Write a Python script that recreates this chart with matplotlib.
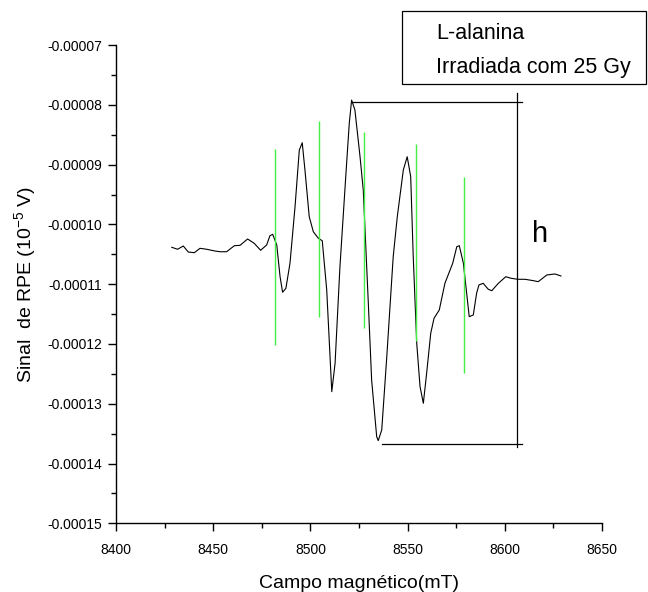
import numpy as np
import matplotlib
matplotlib.use('Agg')
import matplotlib.pyplot as plt
from matplotlib.ticker import MultipleLocator, FuncFormatter

plt.rcParams['font.family'] = ['Liberation Sans', 'DejaVu Sans']

# EPR spectrum (signal in units of 1e-5 V)
campo = [8428.7, 8431.7, 8434.6, 8437.2, 8440.3, 8443.2, 8446.7, 8450.9, 8453.5, 8456.9,
         8460.9, 8463.8, 8467.7, 8471.1, 8474.4, 8477.5, 8479.2, 8480.6, 8482.7, 8484.4,
         8485.7, 8487.4, 8489.5, 8492.1, 8494.3, 8495.8, 8497.2, 8499.4, 8501.5, 8504.1,
         8506.1, 8508.4, 8511.0, 8512.7, 8515.2, 8518.3, 8520.0, 8521.2, 8522.9, 8525.5,
         8527.2, 8529.8, 8531.5, 8534.1, 8534.9, 8536.7, 8539.3, 8541.5, 8542.6, 8544.7,
         8547.8, 8549.8, 8551.6, 8552.9, 8554.7, 8556.4, 8558.1, 8559.8, 8561.9, 8563.6,
         8566.3, 8569.2, 8573.2, 8575.3, 8576.6, 8578.7, 8581.7, 8583.8, 8585.5, 8586.7,
         8588.9, 8591.5, 8593.3, 8596.7, 8600.5, 8603.2, 8606.6, 8610.4, 8614.7, 8617.2,
         8621.6, 8625.8, 8628.9]
sinal = [-10.383, -10.416, -10.361, -10.462, -10.473, -10.400, -10.416, -10.445, -10.457, -10.457,
         -10.356, -10.350, -10.244, -10.316, -10.433, -10.344, -10.189, -10.166, -10.344, -10.875,
         -11.135, -11.069, -10.651, -9.704, -8.756, -8.634, -9.090, -9.871, -10.122, -10.232,
         -10.273, -11.097, -12.798, -12.323, -10.707, -9.145, -8.309, -7.920, -8.087, -8.856,
         -9.425, -11.319, -12.602, -13.550, -13.617, -13.438, -12.212, -11.097, -10.540, -9.871,
         -9.090, -8.868, -9.202, -10.540, -11.988, -12.714, -12.992, -12.490, -11.821, -11.570,
         -11.431, -10.985, -10.651, -10.373, -10.356, -10.651, -11.543, -11.515, -11.152, -11.013,
         -10.985, -11.085, -11.109, -10.985, -10.875, -10.901, -10.918, -10.918, -10.941, -10.958,
         -10.846, -10.829, -10.863]

# green markers of the hyperfine lines
linhas_x = [8481.8, 8504.6, 8527.4, 8554.2, 8578.8]
linhas_topo = [-8.739, -8.271, -8.455, -8.661, -9.207]
linhas_base = [-12.017, -11.553, -11.737, -11.950, -12.490]

# peak-to-peak bracket "h"
h_x_topo = [8521.2, 8608.7]
h_x_base = [8536.6, 8609.0]
h_x_vert = 8606.4
h_topo = -7.948
h_base = -13.67
h_vert = [-7.81, -13.72]

escala = 1e-5

fig = plt.figure(figsize=(6.48, 5.92), dpi=100)
ax = fig.add_axes([0.1790, 0.1160, 0.7500, 0.8079])

ax.plot(campo, np.array(sinal) * escala, color='black', lw=0.8)
ax.vlines(linhas_x, np.array(linhas_base) * escala, np.array(linhas_topo) * escala,
          color='#44ee44', lw=1.0)

ax.plot(h_x_topo, [h_topo * escala] * 2, color='black', lw=0.9, clip_on=False)
ax.plot(h_x_base, [h_base * escala] * 2, color='black', lw=0.9, clip_on=False)
ax.plot([h_x_vert] * 2, np.array(h_vert) * escala, color='black', lw=0.9, clip_on=False)
ax.text(8614, -10.3 * escala, 'h', fontsize=21, ha='left', va='baseline')

ax.set_xlim(8400, 8650)
ax.set_ylim(-15e-5, -7e-5)
ax.xaxis.set_major_locator(MultipleLocator(50))
ax.xaxis.set_minor_locator(MultipleLocator(25))
ax.yaxis.set_major_locator(MultipleLocator(1e-5))
ax.yaxis.set_minor_locator(MultipleLocator(0.5e-5))
ax.yaxis.set_major_formatter(FuncFormatter(lambda v, p: f'{v:.5f}'))

for s in ['top', 'right']:
    ax.spines[s].set_visible(False)
for s in ['left', 'bottom']:
    ax.spines[s].set_linewidth(1.0)
ax.tick_params(which='major', direction='out', length=6, width=1.0, labelsize=10, pad=4)
ax.tick_params(axis='x', which='major', pad=8)
ax.tick_params(which='minor', direction='out', length=3.5, width=1.0)

ax.set_xlabel('Campo magnético(mT)', fontsize=14, labelpad=13)
ax.set_ylabel('Sinal  de RPE (10$^{\\mathregular{-5}}$ V)', fontsize=14, labelpad=6)

# text box in the upper right corner
caixa = plt.Rectangle((0.620, 0.858), 0.377, 0.123, transform=fig.transFigure,
                      fill=False, edgecolor='black', lw=0.9)
fig.patches.append(caixa)
fig.text(0.673, 0.934, 'L-alanina', fontsize=15.5, va='baseline')
fig.text(0.673, 0.877, 'Irradiada com 25 Gy', fontsize=15.5, va='baseline')

plt.savefig('out.png', dpi=100)
plt.close()
